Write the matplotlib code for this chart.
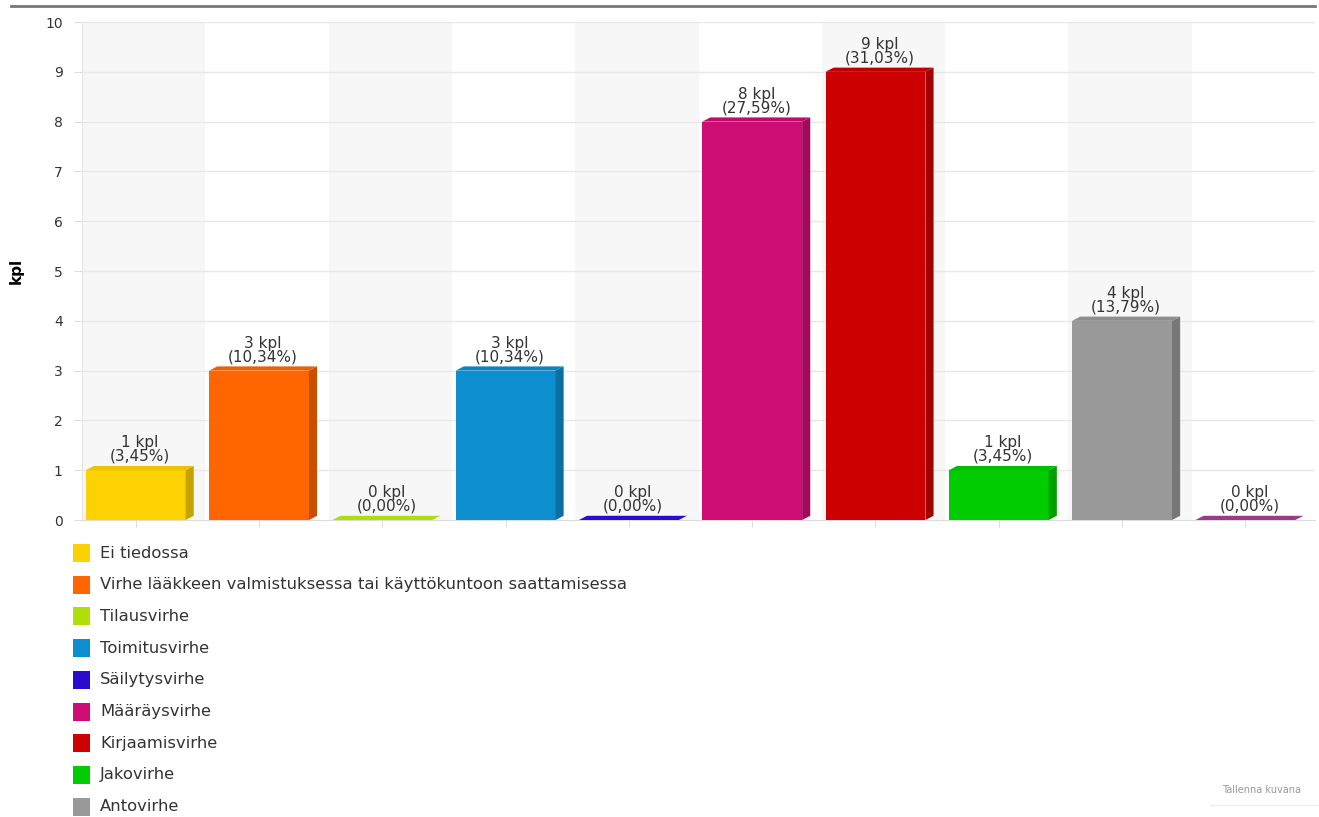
import numpy as np
import matplotlib
matplotlib.use("Agg")
from matplotlib import pyplot as plt
from matplotlib.patches import Polygon, Rectangle
from matplotlib.colors import to_rgb

# categories and counts
categories = ["Ei tiedossa",
              "Virhe lääkkeen valmistuksessa tai käyttökuntoon saattamisessa",
              "Tilausvirhe", "Toimitusvirhe", "Säilytysvirhe", "Määräysvirhe",
              "Kirjaamisvirhe", "Jakovirhe", "Antovirhe", "Muu"]
counts = [1, 3, 0, 3, 0, 8, 9, 1, 4, 0]
percents = ["3,45", "10,34", "0,00", "10,34", "0,00", "27,59", "31,03",
            "3,45", "13,79", "0,00"]
colors = ["#FCD202", "#FF6600", "#B0DE09", "#0D8ECF", "#2A0CD0", "#CD0D74",
          "#CC0000", "#00CC00", "#999999", "#9B3A8C"]
yticks = list(range(0, 11))


def shade(c, f):
    r, g, b = to_rgb(c)
    return (r * f, g * f, b * f)


fig = plt.figure(figsize=(13.19, 8.17), dpi=100)
ax = fig.add_axes([0.0622, 0.3635, 0.9348, 0.6095])
n = len(counts)
ax.set_xlim(0, n)
ax.set_ylim(0, 10)

# alternating column bands
for i in range(n):
    if i % 2 == 0:
        ax.add_patch(Rectangle((i, 0), 1, 10, facecolor="#f7f7f7",
                               edgecolor="none", zorder=0))
for t in yticks[1:]:
    ax.axhline(t, color="#e8e8e8", lw=1, zorder=1)

w = 0.81
dx = 0.066
dy = 0.085
for i, (v, c) in enumerate(zip(counts, colors)):
    x0 = i + 0.03
    x1 = x0 + w
    # front face
    ax.add_patch(Rectangle((x0, 0), w, v, facecolor=c, edgecolor="none",
                           zorder=3))
    # right side
    ax.add_patch(Polygon([(x1, 0), (x1 + dx, dy), (x1 + dx, v + dy), (x1, v)],
                         closed=True, facecolor=shade(c, 0.78),
                         edgecolor="none", zorder=3))
    # top face
    ax.add_patch(Polygon([(x0, v), (x0 + dx, v + dy), (x1 + dx, v + dy), (x1, v)],
                         closed=True, facecolor=shade(c, 1.0) if v == 0 else shade(c, 0.93),
                         edgecolor="none", zorder=4))
    ax.text(x0 + w / 2 + dx / 2, v + dy + 0.04,
            f"{v} kpl\n({percents[i]}%)", ha="center", va="bottom",
            fontsize=11, color="#333333", linespacing=0.9, zorder=5)

ax.set_xticks([i + 0.03 + w / 2 for i in range(n)])
ax.set_xticklabels([])
ax.tick_params(axis="x", length=5, color="#dddddd")
ax.set_yticks(yticks)
ax.tick_params(axis="y", length=6, color="#dddddd", labelsize=10,
               labelcolor="#333333", pad=8)
for s in ["top", "right"]:
    ax.spines[s].set_visible(False)
ax.spines["left"].set_color("#e4e4e4")
ax.spines["bottom"].set_color("#dddddd")
ax.set_ylabel("kpl", fontsize=11, fontweight="bold", color="#000000")
ax.yaxis.set_label_coords(-0.047, 0.5)

# top rule of the page
fig.add_artist(plt.Line2D([0.008, 0.997], [0.993, 0.993], color="#777777",
                          lw=2, transform=fig.transFigure))

# legend (last entry falls outside the visible area)
for k in range(9):
    yy = 817 - (553 + k * 31.7)
    fig.add_artist(Rectangle((73 / 1319, (yy - 9) / 817), 17 / 1319, 18 / 817,
                             facecolor=colors[k], edgecolor="none",
                             transform=fig.transFigure))
    fig.text(100 / 1319, yy / 817, categories[k], fontsize=11.8,
             color="#333333", va="center", ha="left")

fig.text(1222 / 1319, 27 / 817, "Tallenna kuvana", fontsize=7,
         color="#999999", va="center", ha="left")
fig.add_artist(plt.Line2D([1210 / 1319, 1.0], [12 / 817, 12 / 817],
                          color="#eeeeee", lw=1, transform=fig.transFigure))

fig.savefig("out.png", dpi=100)
